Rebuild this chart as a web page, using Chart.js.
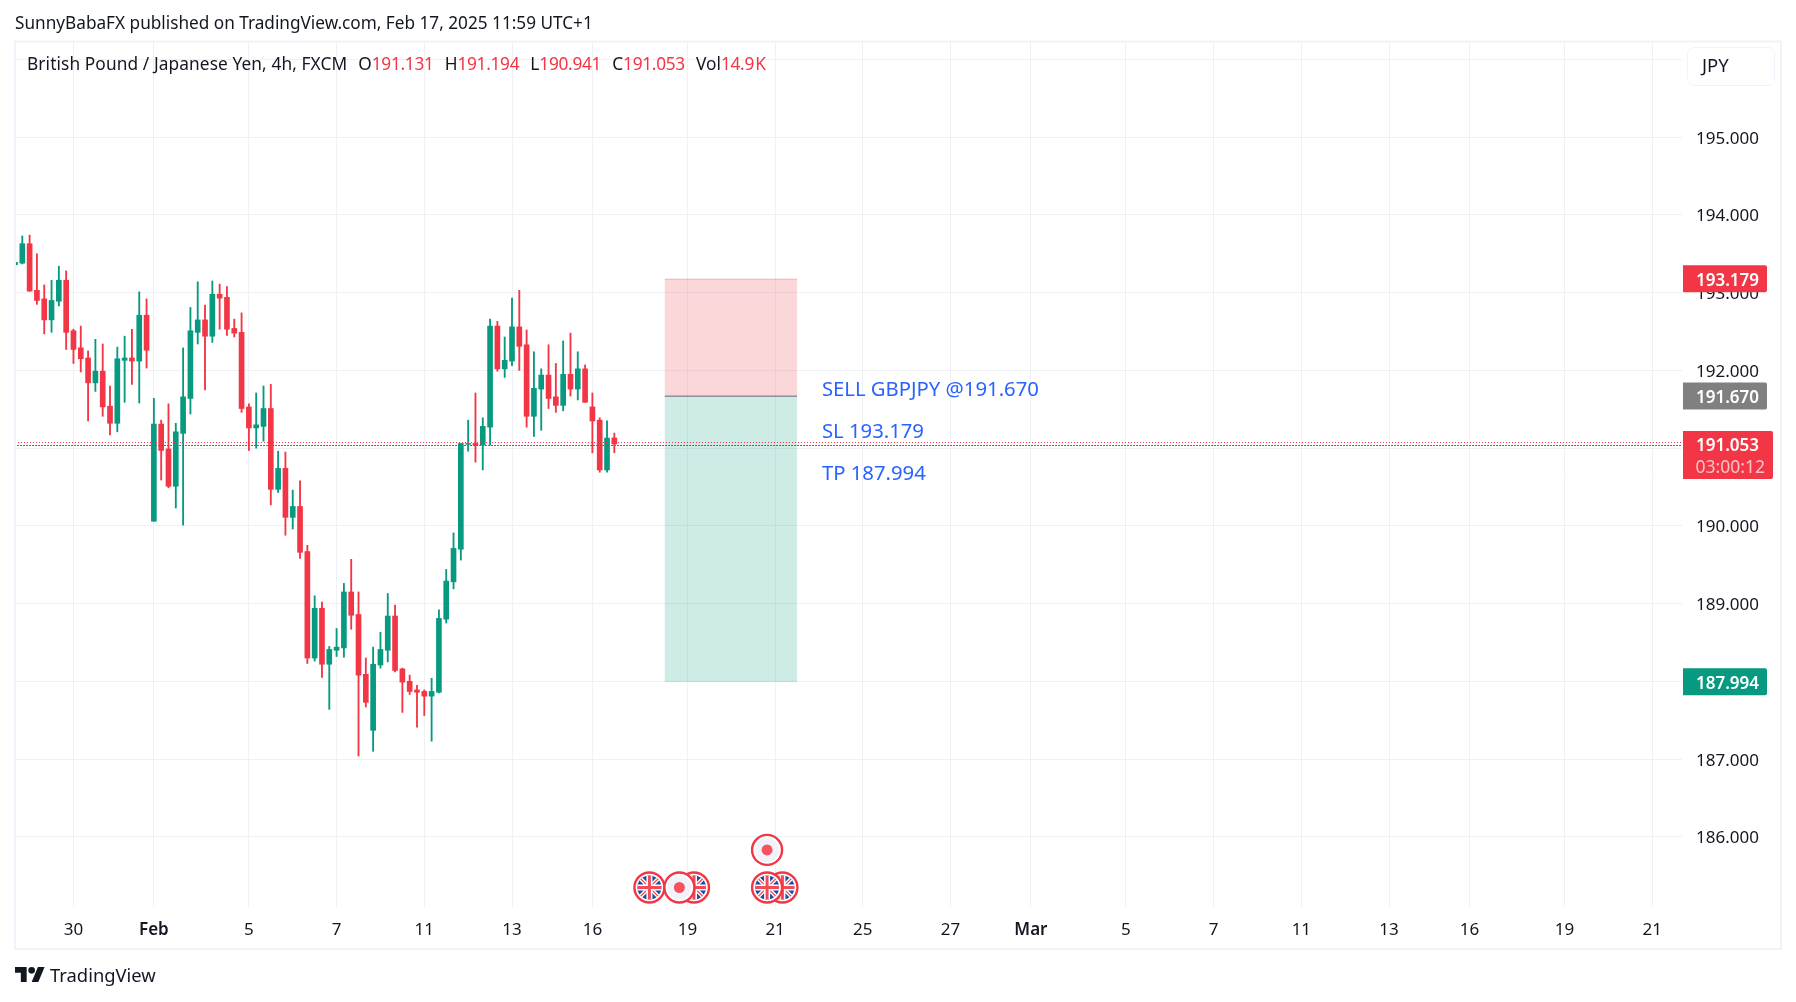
<!DOCTYPE html>
<html>
<head>
<meta charset="utf-8">
<title>GBPJPY 4h</title>
<script src="https://cdn.jsdelivr.net/npm/chart.js@4/dist/chart.umd.min.js"></script>
<style>
    html, body { margin: 0; padding: 0; background: #fff; }
    body { width: 1796px; height: 1002px; position: relative; overflow: hidden; font-family: "Noto Sans", sans-serif; color: #131722; }
    canvas { position: absolute; left: 0; top: 0; }
    .abs { position: absolute; white-space: nowrap; }
    #published { left: 15px; top: 12px; font-size: 17.2px; line-height: 22px; }
    #legend { left: 27px; top: 53px; font-size: 17.3px; line-height: 22px; }
    #legend b { font-weight: 400; color: #f23645; margin-right: 11px; letter-spacing: -0.3px; word-spacing: -3px; }
    #legend span { margin-right: 11px; letter-spacing: 0.1px; }
    #currency { left: 1687px; top: 47px; width: 86px; height: 37px; border: 1px solid #f0f3fa; border-radius: 7px; font-size: 18.5px; line-height: 34px; text-indent: 14px; }
    #brand { left: 50px; top: 962px; font-size: 18.4px; line-height: 26px; }
    #logo { left: 15px; top: 967px; }
</style>
</head>
<body>
<canvas id="chart" width="1796" height="1002"></canvas>
<div class="abs" id="published">SunnyBabaFX published on TradingView.com, Feb 17, 2025 11:59 UTC+1</div>
<div class="abs" id="legend"><span>British Pound / Japanese Yen, 4h, FXCM</span>O<b>191.131</b>H<b>191.194</b>L<b>190.941</b>C<b>191.053</b>Vol<b>14.9 K</b></div>
<div class="abs" id="currency">JPY</div>
<svg class="abs" id="logo" width="30" height="15" viewBox="0 4 36 18" preserveAspectRatio="none"><path fill="#131722" d="M14 22H7V11H0V4h14v18zM28 22h-8l7.5-18h8L28 22z"/><circle fill="#131722" cx="20" cy="8" r="4"/></svg>
<div class="abs" id="brand">TradingView</div>
<script>
// candles, oldest first
const opens = [193.36, 193.38, 193.63, 193.03, 192.92, 192.65, 192.89, 193.16, 192.51, 192.29,
    192.16, 191.84, 191.99, 191.54, 191.32, 192.13, 192.16, 192.12, 192.71, 190.06,
    191.31, 190.99, 190.51, 191.19, 191.64, 192.49, 192.65, 192.44, 192.98, 192.94,
    192.54, 192.49, 191.53, 191.26, 191.28, 191.51, 190.47, 190.74, 190.11, 190.25,
    189.67, 188.30, 188.94, 188.22, 188.40, 188.43, 189.15, 188.86, 188.09, 187.37,
    188.21, 188.40, 188.84, 188.16, 188.00, 187.89, 187.87, 187.81, 187.86, 188.80,
    189.28, 189.70, 191.05, 191.06, 191.04, 191.27, 192.57, 192.02, 192.12, 192.56,
    192.33, 191.41, 191.76, 191.94, 191.66, 191.55, 191.95, 191.76, 192.02, 191.53,
    191.36, 190.72, 191.131];
const highs = [193.57, 193.73, 193.74, 193.50, 193.10, 193.16, 193.34, 193.28, 192.53, 192.57,
    192.25, 192.40, 192.34, 191.80, 192.30, 192.44, 192.53, 193.01, 192.92, 191.64,
    191.36, 191.57, 191.32, 192.29, 192.81, 193.14, 192.84, 193.15, 193.11, 193.08,
    192.66, 192.74, 191.57, 191.71, 191.80, 191.82, 190.96, 190.95, 190.46, 190.58,
    189.75, 189.10, 189.02, 188.45, 188.68, 189.26, 189.57, 189.15, 188.30, 188.44,
    188.63, 189.13, 188.98, 188.17, 188.08, 187.95, 187.89, 188.04, 188.92, 189.44,
    189.91, 191.06, 191.36, 191.71, 191.39, 192.66, 192.63, 192.43, 192.93, 193.03,
    192.52, 192.24, 192.02, 192.33, 192.09, 192.38, 192.48, 192.24, 192.07, 191.71,
    191.39, 191.35, 191.194];
const lows = [193.28, 193.37, 193.02, 192.85, 192.47, 192.49, 192.83, 192.27, 192.09, 191.98,
    191.35, 191.73, 191.41, 191.17, 191.21, 191.59, 191.82, 191.58, 192.03, 190.06,
    190.59, 190.49, 190.23, 190.01, 191.44, 192.34, 191.75, 192.36, 192.53, 192.45,
    192.43, 191.46, 190.97, 191.00, 191.09, 190.27, 190.43, 189.88, 189.96, 189.58,
    188.23, 188.26, 188.05, 187.64, 188.32, 188.31, 188.67, 187.04, 187.67, 187.10,
    188.17, 188.25, 188.12, 187.60, 187.83, 187.41, 187.56, 187.23, 187.85, 188.75,
    189.19, 189.56, 190.96, 190.82, 190.72, 191.04, 191.99, 191.91, 192.06, 192.00,
    191.27, 191.15, 191.23, 191.51, 191.46, 191.48, 191.67, 191.62, 191.59, 190.94,
    190.69, 190.69, 190.941];
const closes = [193.39, 193.63, 193.02, 192.90, 192.65, 192.90, 193.16, 192.49, 192.27, 192.15,
    191.84, 191.99, 191.53, 191.32, 192.15, 192.16, 192.12, 192.71, 192.26, 191.31,
    190.97, 190.51, 191.21, 191.66, 192.51, 192.65, 192.44, 192.98, 192.93, 192.53,
    192.48, 191.51, 191.26, 191.30, 191.51, 190.47, 190.74, 190.11, 190.25, 189.66,
    188.30, 188.94, 188.22, 188.41, 188.44, 189.15, 188.85, 188.08, 187.73, 188.22,
    188.41, 188.84, 188.14, 187.99, 187.87, 187.86, 187.81, 187.87, 188.81, 189.29,
    189.71, 191.06, 191.06, 191.04, 191.28, 192.57, 192.02, 192.13, 192.56, 192.31,
    191.41, 191.77, 191.94, 191.64, 191.55, 191.95, 191.76, 192.02, 191.59, 191.35,
    190.72, 191.13, 191.053];

const priceTicks = [186, 187, 188, 189, 190, 191, 192, 193, 194, 195, 196];
const dateTickBars = [9, 20, 33, 45, 57, 69, 80, 93, 105, 117, 129, 140, 153, 165, 177, 189, 200, 213, 225];
const dateTickLabels = ['30', 'Feb', '5', '7', '11', '13', '16', '19', '21', '25', '27', 'Mar', '5', '7', '11', '13', '16', '19', '21'];

const stopPrice = 193.179;
const entryPrice = 191.670;
const targetPrice = 187.994;
const positionBars = [89.9, 108];
const lastPrice = 191.053;
const countdown = '03:00:12';
const dottedUpper = 191.0726;
const dottedLower = 191.034;

const noteTexts = ['SELL GBPJPY @191.670', 'SL 193.179', 'TP 187.994'];
const notePrices = [191.745, 191.207, 190.667];
const noteBar = 111.4;

const flagEvents = [93.9, 87.8, 106, 103.9];
const dotEvents = [91.9];
const raisedDotEvents = [103.9];

const UP = '#089981';
const DOWN = '#f23645';
const GRID = '#f0f1f4';
const FONT = '"Noto Sans", sans-serif';
const xMin = 1;
const xMax = 229.08;

const barColors = opens.map((o, i) => closes[i] >= o ? UP : DOWN);
const bodies = opens.map((o, i) => ({ x: i + 1, y: [o, closes[i]] }));
const wicks = lows.map((l, i) => ({ x: i + 1, y: [l, highs[i]] }));
const hLine = y => [{ x: xMin, y: y }, { x: xMax, y: y }];

function drawFlag(ctx, x, y) {
    const r = 15;
    ctx.save();
    ctx.beginPath();
    ctx.arc(x, y, r, 0, Math.PI * 2);
    ctx.fillStyle = '#fff';
    ctx.fill();
    ctx.beginPath();
    ctx.arc(x, y, r - 3, 0, Math.PI * 2);
    ctx.clip();
    ctx.fillStyle = '#1d4b9e';
    ctx.fillRect(x - r, y - r, r * 2, r * 2);
    ctx.strokeStyle = '#fff';
    ctx.lineWidth = 4;
    ctx.beginPath();
    ctx.moveTo(x - r, y - r); ctx.lineTo(x + r, y + r);
    ctx.moveTo(x + r, y - r); ctx.lineTo(x - r, y + r);
    ctx.stroke();
    ctx.strokeStyle = '#ef4c58';
    ctx.lineWidth = 1.3;
    ctx.stroke();
    ctx.strokeStyle = '#fff';
    ctx.lineWidth = 6;
    ctx.beginPath();
    ctx.moveTo(x, y - r); ctx.lineTo(x, y + r);
    ctx.moveTo(x - r, y); ctx.lineTo(x + r, y);
    ctx.stroke();
    ctx.strokeStyle = '#ef4c58';
    ctx.lineWidth = 3;
    ctx.stroke();
    ctx.restore();
    ctx.beginPath();
    ctx.arc(x, y, r, 0, Math.PI * 2);
    ctx.strokeStyle = DOWN;
    ctx.lineWidth = 2.4;
    ctx.stroke();
}

function drawDot(ctx, x, y) {
    ctx.beginPath();
    ctx.arc(x, y, 15, 0, Math.PI * 2);
    ctx.fillStyle = '#fff';
    ctx.fill();
    ctx.beginPath();
    ctx.arc(x, y, 12, 0, Math.PI * 2);
    ctx.fillStyle = '#f0f3fa';
    ctx.fill();
    ctx.beginPath();
    ctx.arc(x, y, 15, 0, Math.PI * 2);
    ctx.strokeStyle = DOWN;
    ctx.lineWidth = 2.4;
    ctx.stroke();
    ctx.beginPath();
    ctx.arc(x, y, 5.5, 0, Math.PI * 2);
    ctx.fillStyle = '#f7525f';
    ctx.fill();
}

function priceBox(ctx, scale, price, color) {
    const y = scale.getPixelForValue(price);
    ctx.fillStyle = color;
    ctx.beginPath();
    ctx.roundRect(1683, y - 13.5, 84, 27, [0, 2, 2, 0]);
    ctx.fill();
    ctx.fillStyle = '#fff';
    ctx.font = '600 17px ' + FONT;
    ctx.textAlign = 'left';
    ctx.textBaseline = 'middle';
    ctx.fillText(price.toFixed(3), 1696, y + 2);
}

// position box sits behind the candles, everything else on top
const overlays = {
    id: 'overlays',
    beforeDatasetsDraw(chart) {
        const { ctx, scales: { x, y } } = chart;
        const left = x.getPixelForValue(positionBars[0]);
        const width = x.getPixelForValue(positionBars[1]) - left;
        const stop = y.getPixelForValue(stopPrice);
        const entry = y.getPixelForValue(entryPrice);
        const target = y.getPixelForValue(targetPrice);
        ctx.save();
        ctx.fillStyle = 'rgba(242, 54, 69, 0.2)';
        ctx.fillRect(left, stop, width, entry - stop);
        ctx.fillStyle = 'rgba(8, 153, 129, 0.2)';
        ctx.fillRect(left, entry, width, target - entry);
        ctx.fillStyle = 'rgba(242, 54, 69, 0.25)';
        ctx.fillRect(left, stop, width, 1);
        ctx.fillStyle = 'rgba(8, 153, 129, 0.1)';
        ctx.fillRect(left, target - 1, width, 1);
        ctx.fillStyle = '#787b86';
        ctx.fillRect(left, entry - 0.5, width, 1.2);
        ctx.restore();
    },
    afterDraw(chart) {
        const { ctx, chartArea, scales: { x, y } } = chart;
        ctx.save();

        // outer frame
        ctx.strokeStyle = '#f0f3fa';
        ctx.lineWidth = 2;
        ctx.strokeRect(15, 41.5, 1766, 907.5);

        // notes next to the position box
        ctx.fillStyle = '#2962ff';
        ctx.font = '20.3px ' + FONT;
        ctx.textAlign = 'left';
        ctx.textBaseline = 'middle';
        noteTexts.forEach((t, i) => ctx.fillText(t, x.getPixelForValue(noteBar), y.getPixelForValue(notePrices[i])));

        // price labels on the axis
        priceBox(ctx, y, stopPrice, DOWN);
        priceBox(ctx, y, entryPrice, '#808080');
        priceBox(ctx, y, targetPrice, UP);

        const lastY = y.getPixelForValue(lastPrice);
        ctx.fillStyle = DOWN;
        ctx.beginPath();
        ctx.roundRect(1683, lastY - 13, 90, 48, [0, 2, 2, 0]);
        ctx.fill();
        ctx.fillStyle = '#fff';
        ctx.font = '600 17px ' + FONT;
        ctx.fillText(lastPrice.toFixed(3), 1696, lastY + 2);
        ctx.fillStyle = 'rgba(255, 255, 255, 0.7)';
        ctx.font = '17.5px ' + FONT;
        ctx.fillText(countdown, 1695.5, lastY + 24);

        // economic event markers along the bottom of the pane
        const rowY = chartArea.bottom - 19.5;
        flagEvents.forEach(b => drawFlag(ctx, x.getPixelForValue(b), rowY));
        dotEvents.forEach(b => drawDot(ctx, x.getPixelForValue(b), rowY));
        raisedDotEvents.forEach(b => drawDot(ctx, x.getPixelForValue(b), rowY - 37.6));
        ctx.restore();
    }
};

new Chart(document.getElementById('chart').getContext('2d'), {
    type: 'bar',
    data: {
        datasets: [
            { type: 'line', data: hLine(dottedUpper), borderColor: DOWN, borderWidth: 1, borderDash: [1, 2], pointRadius: 0, order: 0 },
            { type: 'line', data: hLine(dottedLower), borderColor: '#2962ff', borderWidth: 1, borderDash: [1, 2], pointRadius: 0, order: 0 },
            { type: 'line', data: hLine(dottedLower), borderColor: DOWN, borderWidth: 1, borderDash: [1, 2], borderDashOffset: 1, pointRadius: 0, order: 0 },
            { data: bodies, backgroundColor: barColors, barThickness: 5, grouped: false, order: 1 },
            { data: wicks, backgroundColor: barColors, barThickness: 1.2, grouped: false, order: 2 }
        ]
    },
    options: {
        responsive: false,
        animation: false,
        devicePixelRatio: 1,
        events: [],
        layout: { padding: { left: 15, top: 42, right: 16, bottom: 53 } },
        plugins: { legend: { display: false }, tooltip: { enabled: false } },
        scales: {
            x: {
                type: 'linear',
                offset: false,
                min: xMin,
                max: xMax,
                afterBuildTicks: axis => { axis.ticks = dateTickBars.map(v => ({ value: v })); },
                afterFit: axis => { axis.height = 42; },
                grid: { color: GRID, lineWidth: 1, drawTicks: false, offset: false },
                border: { display: false },
                ticks: {
                    autoSkip: false,
                    maxRotation: 0,
                    padding: 12.5,
                    color: '#131722',
                    font: ctx => ({ family: FONT, size: 17, weight: ctx.tick && /^[A-Z]/.test(ctx.tick.label || '') ? '600' : '400' }),
                    callback: value => dateTickLabels[dateTickBars.indexOf(value)]
                }
            },
            y: {
                position: 'right',
                min: 185.097,
                max: 196.225,
                afterBuildTicks: axis => { axis.ticks = priceTicks.map(v => ({ value: v })); },
                afterFit: axis => { axis.width = 98; },
                grid: { color: GRID, lineWidth: 1, drawTicks: false },
                border: { display: false },
                ticks: {
                    padding: 14,
                    color: '#131722',
                    // the blank first line nudges the label down onto its gridline
                    font: { family: FONT, size: 17, lineHeight: 0.2 },
                    callback: value => value === 196 ? '' : ['', value.toFixed(3)]
                }
            }
        }
    },
    plugins: [overlays]
});
</script>
</body>
</html>
